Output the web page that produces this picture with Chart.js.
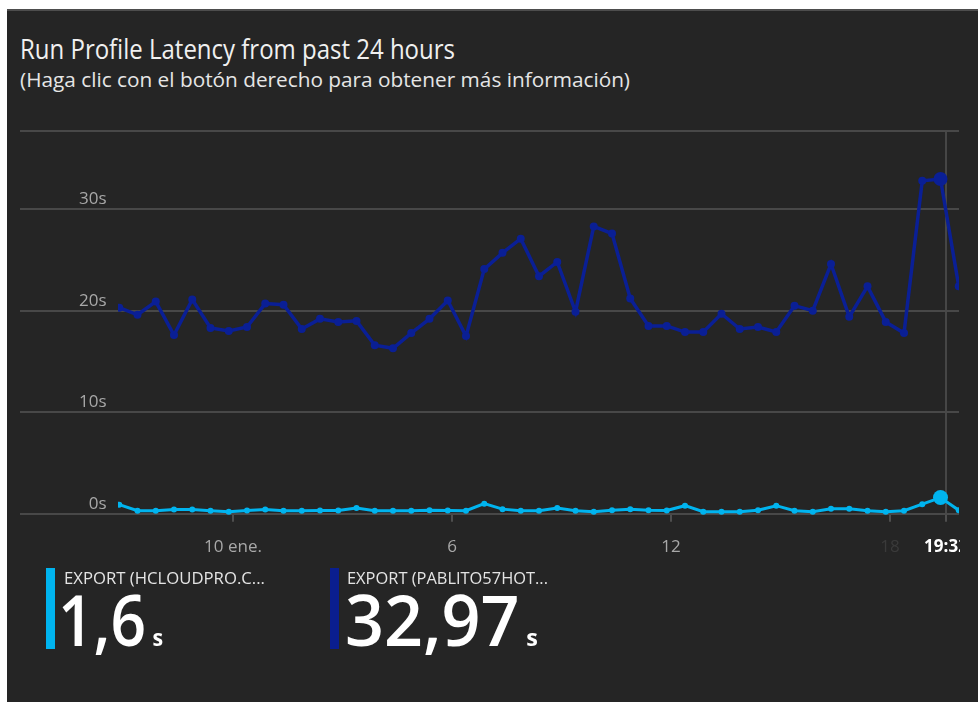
<!DOCTYPE html>
<html>
<head>
<meta charset="utf-8">
<script src="https://cdn.jsdelivr.net/npm/chart.js@4.4.1/dist/chart.umd.min.js"></script>
<style>
  html, body { margin: 0; background: #fff; }
  body { width: 978px; height: 702px; position: relative; overflow: hidden;
         font-family: "Open Sans", "Noto Sans", sans-serif; }
  #card { position: absolute; left: 7px; top: 9px; right: 0; bottom: 0;
          background: #252525; border-top: 2px solid #4d4d4d; }
  .fit { position: absolute; white-space: nowrap; transform-origin: 0 0; }
  #title { left: 20px; top: 35px; font-size: 27px; line-height: 27px; color: #f0f0f0; }
  #subtitle { left: 20px; top: 70px; font-size: 20px; line-height: 20px; color: #e6e6e6; }
  #chart { position: absolute; left: 0; top: 0; }
  .bar { position: absolute; top: 568px; width: 9px; height: 81px; }
  .lbl { top: 569px; font-size: 17px; line-height: 17px; color: #e4e4e4; }
  .val { top: 584px; font-size: 70px; line-height: 70px; color: #fff; font-weight: 600; }
  .val span { font-size: 24px; font-weight: bold; margin-left: 7px; }
</style>
</head>
<body>
<div id="card"></div>
<div id="title" class="fit" data-w="435">Run Profile Latency from past 24 hours</div>
<div id="subtitle" class="fit" data-w="610">(Haga clic con el botón derecho para obtener más información)</div>
<canvas id="chart" width="960" height="583"></canvas>

<div class="bar" style="left:46px;background:#00b4ef"></div>
<div class="fit lbl" style="left:64px" data-w="201" id="name0"></div>
<div class="fit val" style="left:58px" data-w="105" id="val0"></div>
<div class="bar" style="left:330px;background:#0a1e8f"></div>
<div class="fit lbl" style="left:347px" data-w="201" id="name1"></div>
<div class="fit val" style="left:345px" data-w="193" id="val1"></div>

<script>
// half-hourly samples, 9 ene. 20:53 -> 10 ene. 19:53
const times = [
  '20:53', '21:23', '21:53', '22:23', '22:53', '23:23', '23:53',
  '00:23', '00:53', '01:23', '01:53', '02:23', '02:53', '03:23', '03:53', '04:23', '04:53', '05:23', '05:53',
  '06:23', '06:53', '07:23', '07:53', '08:23', '08:53', '09:23', '09:53', '10:23', '10:53', '11:23', '11:53',
  '12:23', '12:53', '13:23', '13:53', '14:23', '14:53', '15:23', '15:53', '16:23', '16:53', '17:23', '17:53',
  '18:23', '18:53', '19:23', '19:53'
];

const seriesNames = ['EXPORT (HCLOUDPRO.C...', 'EXPORT (PABLITO57HOT...'];

// latency in seconds
const hcloudpro = [
  0.9, 0.3, 0.3, 0.42, 0.42, 0.3, 0.2, 0.33, 0.42, 0.3, 0.3, 0.33, 0.33, 0.56, 0.3, 0.3,
  0.3, 0.36, 0.33, 0.3, 1.0, 0.46, 0.3, 0.3, 0.56, 0.3, 0.2, 0.36, 0.46, 0.36, 0.33, 0.8,
  0.2, 0.2, 0.2, 0.36, 0.8, 0.3, 0.2, 0.5, 0.5, 0.3, 0.2, 0.3, 0.95, 1.6, 0.36
];
const pablito57 = [
  20.3, 19.6, 20.9, 17.6, 21.1, 18.3, 18.0, 18.4, 20.7, 20.6, 18.2, 19.2, 18.9, 19.0, 16.6, 16.3,
  17.8, 19.2, 21.0, 17.5, 24.1, 25.7, 27.1, 23.4, 24.8, 19.9, 28.3, 27.6, 21.2, 18.5, 18.5, 17.9,
  17.9, 19.7, 18.2, 18.4, 17.9, 20.5, 20.0, 24.6, 19.4, 22.4, 18.9, 17.8, 32.8, 32.97, 22.4
];

// x axis in hours from 10 ene. 00:00
const tickHours = [0, 6, 12, 18, 19 + 32 / 60];
const tickLabels = ['10 ene.', '6', '12', '18', '19:32'];
const yTicks = [0, 10, 20, 30];
const yMax = 37.7;

const hoverIndex = 45;
const hoverHour = tickHours[4];

// turn "hh:mm" strings into hours, rolling over midnight
let dayOffset = -24, prev = -1;
const hours = times.map(t => {
  const [h, m] = t.split(':').map(Number);
  const v = h + m / 60;
  if (v < prev) dayOffset += 24;
  prev = v;
  return v + dayOffset;
});

const toPoints = arr => arr.map((y, i) => ({ x: hours[i], y }));

const lightBlue = '#00b4ef';
const navy = '#0a1f95';

new Chart(document.getElementById('chart'), {
  type: 'line',
  data: {
    datasets: [
      {
        data: toPoints(hcloudpro),
        borderColor: lightBlue,
        backgroundColor: lightBlue,
        borderWidth: 3,
        pointRadius: ctx => ctx.dataIndex === hoverIndex ? 7.5 : 3,
        pointBorderWidth: 0,
        clip: { left: -98, top: 10, right: 0, bottom: 10 }
      },
      {
        data: toPoints(pablito57),
        borderColor: navy,
        backgroundColor: navy,
        borderWidth: 3.5,
        pointRadius: ctx => ctx.dataIndex === hoverIndex ? 7 : 4,
        pointBorderWidth: 0,
        clip: { left: -98, top: 10, right: 0, bottom: 10 }
      }
    ]
  },
  options: {
    responsive: false,
    animation: false,
    events: [],
    layout: {
      autoPadding: false,
      padding: { left: 20, top: 131, right: 1, bottom: 0 }
    },
    scales: {
      x: {
        type: 'linear',
        min: -5.836,
        max: 19.89,
        border: { display: false },
        afterBuildTicks: scale => { scale.ticks = tickHours.map(v => ({ value: v })); },
        // let the last label run off the edge instead of shrinking the plot
        afterFit: scale => { scale.paddingLeft = 0; scale.paddingRight = 0; },
        grid: {
          drawOnChartArea: true,
          color: ctx => ctx.tick && ctx.tick.value === hoverHour ? '#464646' : 'rgba(0,0,0,0)',
          lineWidth: 2,
          tickColor: '#5c5c5c',
          tickLength: 8,
          tickWidth: 1.5
        },
        ticks: {
          autoSkip: false,
          maxRotation: 0,
          padding: 15,
          callback: (v, i) => tickLabels[i],
          color: ctx => ctx.index === 3 ? '#3a3a3a' : ctx.index === 4 ? '#ffffff' : '#a8a8a8',
          font: ctx => ({ family: '"Open Sans", sans-serif', size: 17, weight: ctx.index === 4 ? 'bold' : 'normal' })
        }
      },
      y: {
        min: 0,
        max: yMax,
        border: { display: false },
        afterBuildTicks: scale => { scale.ticks = yTicks.concat([yMax]).map(v => ({ value: v })); },
        afterFit: scale => { scale.width = 0; },
        grid: { color: '#484848', lineWidth: 2, drawTicks: false },
        ticks: {
          mirror: true,
          crossAlign: 'far',
          padding: 59,
          labelOffset: -10,
          callback: v => yTicks.includes(v) ? v + 's' : '',
          color: '#a8a8a8',
          font: { family: '"Open Sans", sans-serif', size: 17 }
        }
      }
    },
    plugins: {
      legend: { display: false },
      tooltip: { enabled: false }
    }
  }
});

// summary values under the chart, taken from the hovered sample
const fmt = v => v.toLocaleString('es-ES');
[hcloudpro, pablito57].forEach((arr, k) => {
  document.getElementById('name' + k).textContent = seriesNames[k];
  document.getElementById('val' + k).innerHTML = fmt(arr[hoverIndex]) + '<span>s</span>';
});

// squeeze text blocks to the width of the dashboard font
document.querySelectorAll('.fit[data-w]').forEach(el => {
  const w = el.getBoundingClientRect().width;
  el.style.transform = 'scaleX(' + (Number(el.dataset.w) / w) + ')';
});
</script>
</body>
</html>
